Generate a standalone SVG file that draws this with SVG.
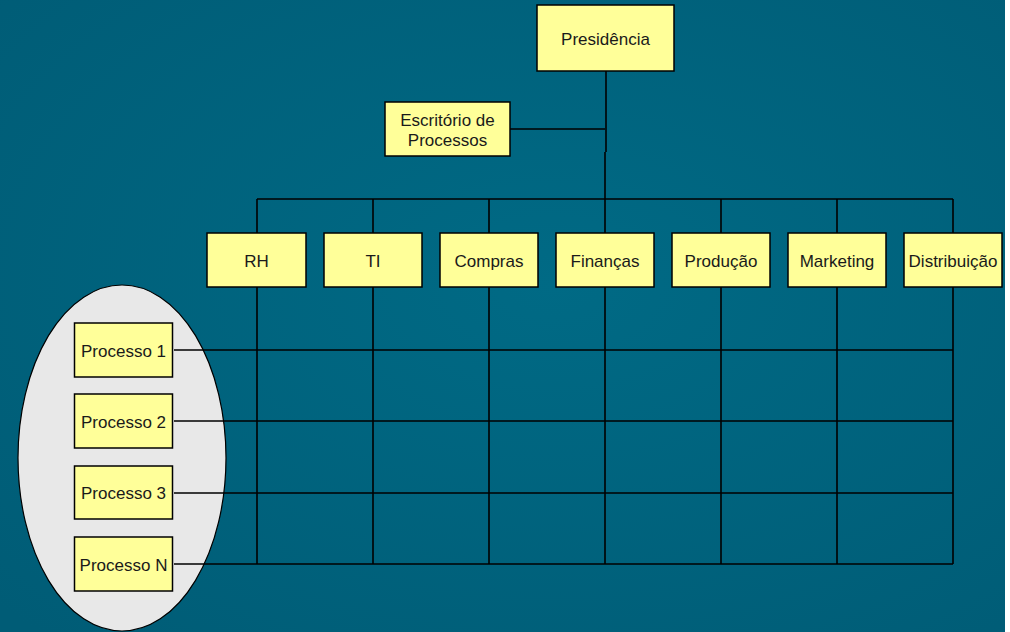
<svg xmlns="http://www.w3.org/2000/svg" width="1010" height="632" viewBox="0 0 1010 632">
<defs>
<radialGradient id="bg" cx="0.55" cy="0.45" r="0.75">
<stop offset="0" stop-color="#006a85"/>
<stop offset="1" stop-color="#005c76"/>
</radialGradient>
<style>
.box{fill:#ffff99;stroke:#000;stroke-width:1.5}
.t{font-family:"Liberation Sans",Arial,sans-serif;font-size:17px;fill:#1a1a1a;text-anchor:middle;dominant-baseline:central}
.ln{stroke:#000;stroke-width:1.6;fill:none}
</style>
</defs>
<rect x="0" y="0" width="1010" height="632" fill="#ffffff"/>
<rect x="0" y="0" width="1005" height="632" fill="url(#bg)"/>
<ellipse id="group-ellipse" cx="122" cy="458" rx="104" ry="173" fill="#e8e8e8" stroke="#000" stroke-width="1.2"/>
<g id="connectors">
<path class="ln" d="M606 71V152"/>
<path class="ln" d="M605 152V199"/>
<path class="ln" d="M510 129H605"/>
<path class="ln" d="M257 199H953"/>
<path class="ln" d="M257 199V233M373 199V233M489 199V233M605 199V233M721 199V233M837 199V233M953 199V233"/>
<path class="ln" d="M257 287V564M373 287V564M489 287V564M605 287V564M721 287V564M837 287V564M953 287V564"/>
<path class="ln" d="M174 350H953M174 421H953M174 493H953M174 564H953"/>
</g>
<g id="presidencia"><rect class="box" x="537" y="5" width="137" height="66"/><text class="t" x="605.5" y="39">Presidência</text></g>
<g id="escritorio"><rect class="box" x="385" y="102" width="125" height="54"/><text class="t" x="447.5" y="120">Escritório de</text><text class="t" x="447.5" y="140">Processos</text></g>
<g id="rh"><rect class="box" x="207" y="233" width="99" height="54"/><text class="t" x="256.5" y="261">RH</text></g>
<g id="ti"><rect class="box" x="324" y="233" width="98" height="54"/><text class="t" x="373" y="261">TI</text></g>
<g id="compras"><rect class="box" x="440" y="233" width="98" height="54"/><text class="t" x="489" y="261">Compras</text></g>
<g id="financas"><rect class="box" x="556" y="233" width="98" height="54"/><text class="t" x="605" y="261">Finanças</text></g>
<g id="producao"><rect class="box" x="672" y="233" width="98" height="54"/><text class="t" x="721" y="261">Produção</text></g>
<g id="marketing"><rect class="box" x="788" y="233" width="98" height="54"/><text class="t" x="837" y="261">Marketing</text></g>
<g id="distribuicao"><rect class="box" x="904" y="233" width="98" height="54"/><text class="t" x="953" y="261">Distribuição</text></g>
<g id="processo1"><rect class="box" x="74.5" y="323" width="98" height="54"/><text class="t" x="123.5" y="351">Processo 1</text></g>
<g id="processo2"><rect class="box" x="74.5" y="394" width="98" height="54"/><text class="t" x="123.5" y="422">Processo 2</text></g>
<g id="processo3"><rect class="box" x="74.5" y="466" width="98" height="53"/><text class="t" x="123.5" y="493.5">Processo 3</text></g>
<g id="processoN"><rect class="box" x="74.5" y="537" width="98" height="54"/><text class="t" x="123.5" y="565">Processo N</text></g>
</svg>
